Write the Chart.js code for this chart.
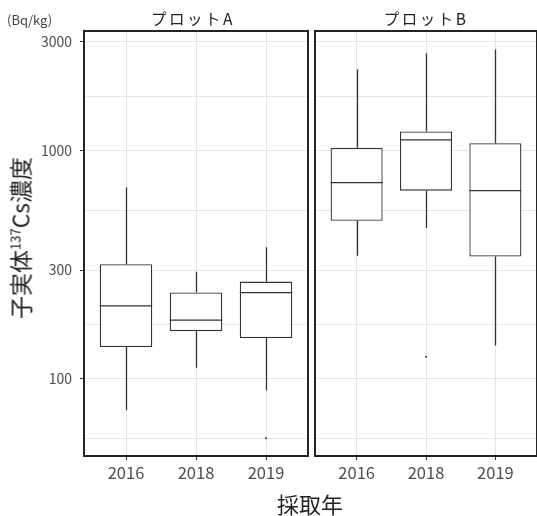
<!DOCTYPE html>
<html lang="ja">
<head>
<meta charset="utf-8">
<script src="https://cdn.jsdelivr.net/npm/chart.js@4"></script>
<style>
html, body { margin: 0; padding: 0; background: #fff; width: 537px; height: 516px; overflow: hidden; }
body { position: relative; font-family: "Noto Sans CJK JP", sans-serif; }
.panel { position: absolute; top: 0; height: 516px; }
#wrapA { left: 0; width: 312px; }
#wrapB { left: 311px; width: 230px; }
.lbl { position: absolute; white-space: nowrap; color: #1a1a1a; line-height: 1; }
#unit { left: 7px; top: 13px; font-size: 13px; color: #444; }
.strip { top: 11px; font-size: 15.5px; letter-spacing: 2.5px; transform: translateX(-50%); color: #222; }
#stripA { left: 193px; }
#stripB { left: 426px; }
#ytitle { left: 20px; top: 238px; font-size: 23px; transform: translate(-50%, -50%) rotate(-90deg); color: #222; }
#ytitle sup { font-size: 13px; vertical-align: 9px; }
#xtitle { left: 310px; top: 492px; font-size: 22px; transform: translateX(-50%); color: #222; }
</style>
</head>
<body>
<div class="panel" id="wrapA"><canvas id="plotA"></canvas></div>
<div class="panel" id="wrapB"><canvas id="plotB"></canvas></div>
<div class="lbl" id="unit">(Bq/kg)</div>
<div class="lbl strip" id="stripA">プロットA</div>
<div class="lbl strip" id="stripB">プロットB</div>
<div class="lbl" id="ytitle">子実体<sup>137</sup>Cs濃度</div>
<div class="lbl" id="xtitle">採取年</div>
<script>
const years = ['2016', '2018', '2019'];
const yTicks = [100, 300, 1000, 3000];

// プロットA
const aLow  = [73, 112, 89];
const aQ1   = [138, 162, 151];
const aMed  = [209, 181, 239];
const aQ3   = [318, 239, 267];
const aHigh = [690, 295, 377];
const aOut  = [{ x: 3, y: 55 }];

// プロットB
const bLow  = [346, 458, 140];
const bQ1   = [493, 668, 344];
const bMed  = [724, 1114, 668];
const bQ3   = [1028, 1212, 1077];
const bHigh = [2265, 2672, 2773];
const bOut  = [{ x: 2, y: 125 }];

// minor grid lines half way between the labelled ones (log space)
const gridVals = [Math.sqrt(30 * 100)];
yTicks.forEach((v, i) => {
  gridVals.push(v);
  if (i < yTicks.length - 1) gridVals.push(Math.sqrt(v * yTicks[i + 1]));
});

const fam = '"Noto Sans CJK JP", sans-serif';
const ink = '#333';
const gridCol = '#e6e6e6';

// whiskers, medians and the panel frame
const boxParts = {
  id: 'boxParts',
  afterDatasetsDraw(chart, args, opts) {
    const { ctx, chartArea: a, scales: { x, y } } = chart;
    const bars = chart.getDatasetMeta(0).data;
    ctx.save();
    ctx.strokeStyle = ink;
    ctx.lineWidth = 1.3;
    opts.low.forEach((lo, i) => {
      const px = Math.round(x.getPixelForValue(i + 1)) + 0.5;
      const half = bars[i].width / 2;
      const ym = y.getPixelForValue(opts.med[i]);
      ctx.beginPath();
      ctx.moveTo(px, y.getPixelForValue(opts.high[i]));
      ctx.lineTo(px, y.getPixelForValue(opts.q3[i]));
      ctx.moveTo(px, y.getPixelForValue(opts.q1[i]));
      ctx.lineTo(px, y.getPixelForValue(lo));
      ctx.moveTo(bars[i].x - half, ym);
      ctx.lineTo(bars[i].x + half, ym);
      ctx.stroke();
    });
    ctx.strokeStyle = '#222';
    ctx.lineWidth = 2;
    ctx.strokeRect(a.left, a.top, a.right - a.left, a.bottom - a.top);
    ctx.restore();
  }
};

function makePanel(id, low, q1, med, q3, high, outliers, showY) {
  return new Chart(document.getElementById(id), {
    type: 'bar',
    data: {
      datasets: [
        {
          type: 'bar',
          data: years.map((_, i) => ({ x: i + 1, y: [q1[i], q3[i]] })),
          backgroundColor: '#fff',
          borderColor: ink,
          borderWidth: 1.3,
          borderSkipped: false,
          barPercentage: 0.75,
          categoryPercentage: 1
        },
        {
          type: 'scatter',
          data: outliers,
          pointRadius: 1,
          pointBackgroundColor: ink,
          pointBorderWidth: 0
        }
      ]
    },
    options: {
      responsive: true,
      maintainAspectRatio: false,
      animation: false,
      layout: { padding: showY ? { top: 31, right: 4, left: 0, bottom: 0 } : { top: 31, right: 2, left: 4, bottom: 0 } },
      plugins: {
        legend: { display: false },
        tooltip: { enabled: false },
        boxParts: { low, q1, med, q3, high }
      },
      scales: {
        x: {
          type: 'linear',
          min: 0.4,
          max: 3.6,
          offset: false,
          afterBuildTicks: s => { s.ticks = years.map((_, i) => ({ value: i + 1 })); },
          afterFit: s => { s.height = 60; },
          grid: { offset: false, color: gridCol, lineWidth: 1, tickLength: 4, tickColor: ink },
          border: { display: false },
          ticks: {
            autoSkip: false,
            maxRotation: 0,
            padding: 3,
            color: '#4d4d4d',
            font: { family: fam, size: 16.5 },
            callback: v => years[v - 1]
          }
        },
        y: {
          type: 'logarithmic',
          min: 46,
          max: 3340,
          afterBuildTicks: s => { s.ticks = gridVals.map(v => ({ value: v })); },
          afterFit: s => { s.width = showY ? 84 : 0; },
          grid: {
            color: gridCol,
            lineWidth: 1,
            drawTicks: showY,
            tickLength: 4,
            tickColor: c => (c.tick && yTicks.includes(c.tick.value)) ? ink : 'rgba(0,0,0,0)'
          },
          border: { display: false },
          ticks: {
            display: showY,
            autoSkip: false,
            padding: 8,
            color: '#4d4d4d',
            font: { family: fam, size: 14 },
            callback: v => yTicks.includes(v) ? String(v) : ''
          }
        }
      }
    },
    plugins: [boxParts]
  });
}

makePanel('plotA', aLow, aQ1, aMed, aQ3, aHigh, aOut, true);
makePanel('plotB', bLow, bQ1, bMed, bQ3, bHigh, bOut, false);
</script>
</body>
</html>
